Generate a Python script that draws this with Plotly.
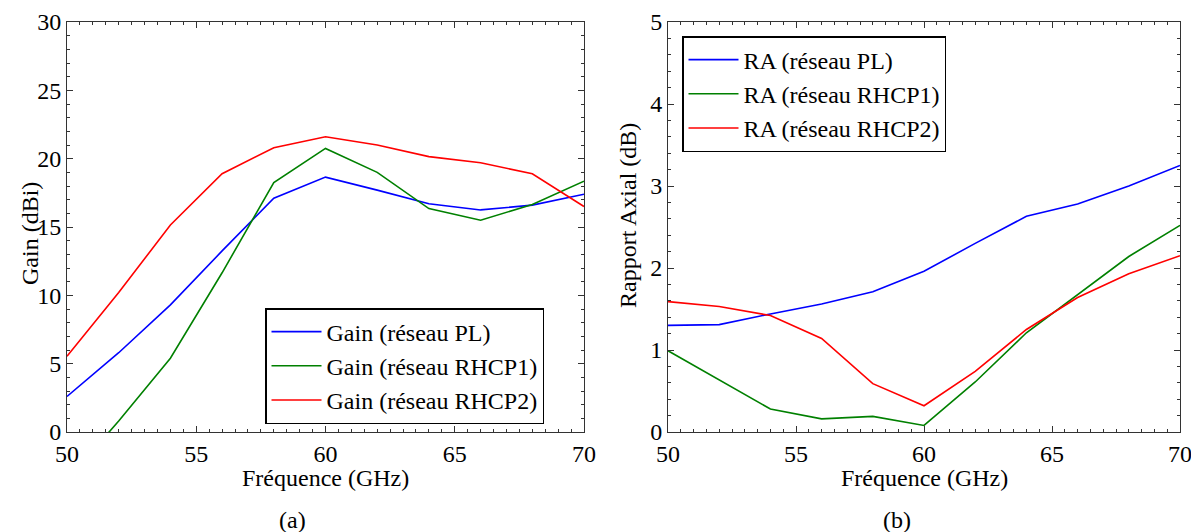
import plotly.graph_objects as go

freq = [50, 52, 54, 56, 58, 60, 62, 64, 66, 68, 70]

gain_pl = [2.6, 5.8, 9.3, 13.25, 17.1, 18.65, 17.7, 16.7, 16.25, 16.6, 17.4]
gain_rhcp1 = [-3.5, 0.8, 5.4, 11.65, 18.25, 20.75, 19.0, 16.35, 15.5, 16.65, 18.35]
gain_rhcp2 = [5.55, 10.2, 15.15, 18.9, 20.8, 21.6, 21.0, 20.15, 19.7, 18.9, 16.5]

ra_pl = [1.30, 1.31, 1.44, 1.56, 1.71, 1.96, 2.30, 2.63, 2.78, 3.0, 3.25]
ra_rhcp1 = [0.99, 0.63, 0.28, 0.16, 0.19, 0.08, 0.61, 1.21, 1.68, 2.14, 2.52]
ra_rhcp2 = [1.59, 1.53, 1.42, 1.14, 0.59, 0.32, 0.74, 1.25, 1.64, 1.93, 2.15]

names_gain = ["Gain (réseau PL)", "Gain (réseau RHCP1)", "Gain (réseau RHCP2)"]
names_ra = ["RA (réseau PL)", "RA (réseau RHCP1)", "RA (réseau RHCP2)"]
colors = ["#0000ff", "#008000", "#ff0000"]

FONT = "Liberation Serif"
W, H = 1199, 532
OFF = 8  # page body margin offset
T, B = 22 - OFF, 100 + OFF
PH = H - T - B


def px(xpix):
    return (xpix - OFF) / W


def py(ypix):
    return (H - B - (ypix - OFF)) / PH


fig = go.Figure()
for ys, nm, c in zip([gain_pl, gain_rhcp1, gain_rhcp2], names_gain, colors):
    fig.add_trace(go.Scatter(x=freq, y=ys, name=nm, mode="lines",
                             line=dict(color=c, width=1.6), xaxis="x", yaxis="y",
                             legend="legend"))
for ys, nm, c in zip([ra_pl, ra_rhcp1, ra_rhcp2], names_ra, colors):
    fig.add_trace(go.Scatter(x=freq, y=ys, name=nm, mode="lines",
                             line=dict(color=c, width=1.6), xaxis="x2", yaxis="y2",
                             legend="legend2"))

x1 = [px(67), px(584)]
x2 = [px(668), px(1180)]

ax_common = dict(showgrid=False, zeroline=False, showline=True, linecolor="#333",
                 linewidth=1, mirror="allticks", ticks="inside", ticklen=6,
                 automargin=False,
                 tickcolor="#333", tickfont=dict(family=FONT, size=24, color="black"))

fig.update_layout(
    width=W, height=H, autosize=False,
    margin=dict(l=0, r=0, t=T, b=B, pad=0, autoexpand=False),
    paper_bgcolor="white", plot_bgcolor="white",
    font=dict(family=FONT, color="black"),
    xaxis=dict(domain=x1, range=[50, 70], dtick=5, anchor="y",
               minor=dict(dtick=0.5, ticks="inside", ticklen=3, tickcolor="#333"), **ax_common),
    yaxis=dict(domain=[0, 1], range=[0, 30], dtick=5, anchor="x",
               minor=dict(dtick=1, ticks="inside", ticklen=3, tickcolor="#333"), **ax_common),
    xaxis2=dict(domain=x2, range=[50, 70], dtick=5, anchor="y2",
                minor=dict(dtick=0.5, ticks="inside", ticklen=3, tickcolor="#333"), **ax_common),
    yaxis2=dict(domain=[0, 1], range=[0, 5], dtick=1, anchor="x2",
                minor=dict(dtick=0.2, ticks="inside", ticklen=3, tickcolor="#333"), **ax_common),
    legend=dict(x=px(265), y=py(308), xanchor="left", yanchor="top",
                bgcolor="white", bordercolor="black", borderwidth=1.5,
                font=dict(family=FONT, size=24, color="black"),
                tracegroupgap=0, itemwidth=50),
    legend2=dict(x=px(682), y=py(36), xanchor="left", yanchor="top",
                 bgcolor="white", bordercolor="black", borderwidth=1.5,
                 font=dict(family=FONT, size=24, color="black"),
                 tracegroupgap=0, itemwidth=50),
    showlegend=True,
)

annots = [
    dict(text="Fréquence (GHz)", x=(x1[0] + x1[1]) / 2, y=py(478)),
    dict(text="Fréquence (GHz)", x=(x2[0] + x2[1]) / 2, y=py(478)),
    dict(text="Gain (dBi)", x=px(30), y=py(234), textangle=-90),
    dict(text="Rapport Axial (dB)", x=px(628), y=py(216), textangle=-90),
    dict(text="(a)", x=px(292), y=py(520)),
    dict(text="(b)", x=px(897), y=py(520)),
]
for a in annots:
    fig.add_annotation(xref="paper", yref="paper", showarrow=False,
                       xanchor="center", yanchor="middle",
                       font=dict(family=FONT, size=24, color="black"), **a)

fig.write_html("out.html")
